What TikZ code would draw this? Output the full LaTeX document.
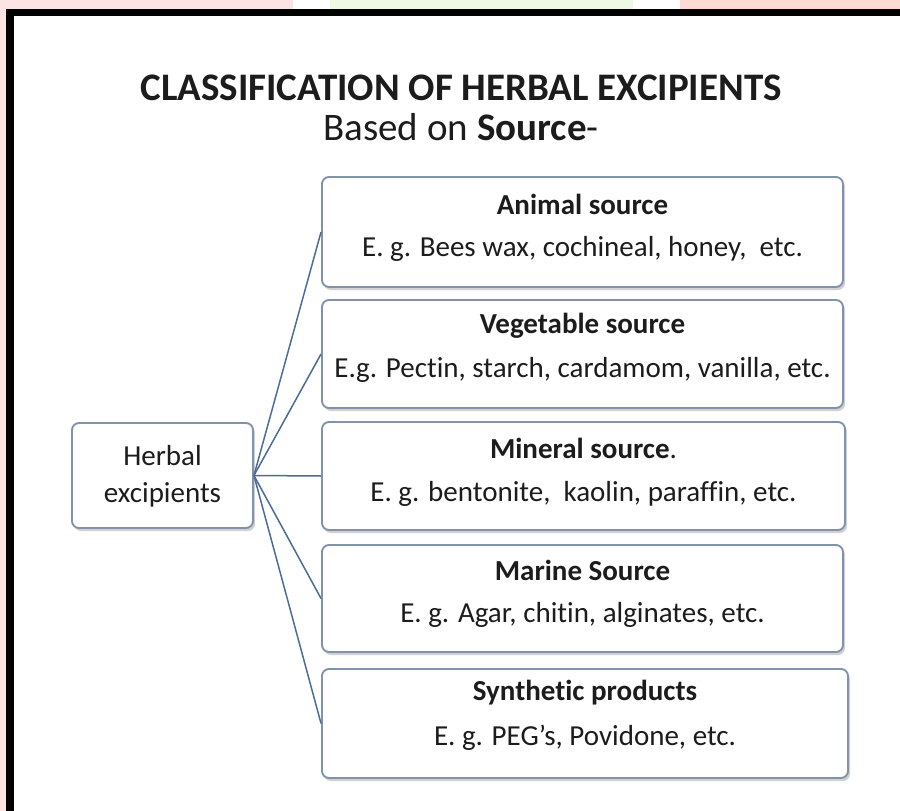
\documentclass[tikz,border=0pt]{standalone}
\usepackage{fontspec}
\setmainfont{Carlito}[RawFeature={-liga;-clig;-calt;-dlig}]
\definecolor{bandpink}{HTML}{FDE4E4}
\definecolor{bandgreen}{HTML}{EEF8E4}
\definecolor{bandsalmon}{HTML}{FDDAD4}
\definecolor{boxline}{HTML}{8192AB}
\definecolor{connline}{HTML}{4E6C98}
\definecolor{txt}{HTML}{1C1C1C}
\tikzset{
  srcbox/.style={draw=boxline, line width=1.9pt, rounded corners=7pt, fill=white, inner sep=0pt},
  hdr/.style={font=\fontsize{29}{34}\selectfont\bfseries, text=txt, inner sep=0pt},
  bodytxt/.style={font=\fontsize{29}{34}\selectfont, text=txt, inner sep=0pt},
  conn/.style={draw=connline, line width=1.5pt},
  shadowbox/.style={fill=black!18, rounded corners=7pt, draw=none}
}
\begin{document}
\begin{tikzpicture}[x=1pt,y=-1pt]
\useasboundingbox (0,0) rectangle (900,811);
\fill[white] (0,0) rectangle (900,811);
% top colour band
\fill[bandpink] (0,0) rectangle (293,9);
\fill[bandgreen] (330,0) rectangle (633,9);
\fill[bandsalmon] (680,0) rectangle (900,9);
\fill[bandpink] (0,9) rectangle (6,811);
% black frame
\fill[black] (6,9) rectangle (900,16);
\fill[black] (6,9) rectangle (14,811);
% title
\node[font=\fontsize{39}{46}\selectfont\bfseries, text=txt, inner sep=0pt] (title) at (461,88) {CLASSIFICATION OF HERBAL EXCIPIENTS};
\node[font=\fontsize{39}{46}\selectfont, text=txt, inner sep=0pt] (sub) at (461,127) {Based on \textbf{Source}-};
% shadows
\foreach \t/\b/\r in {177/287/843, 300/408/843, 422/530/845, 545/652/843, 669/778/848}{
  \fill[shadowbox] (324,\t+3) rectangle (\r+2,\b+3);
}
\fill[shadowbox] (74,426) rectangle (255,531);
% boxes
\node[srcbox, minimum width=521pt, minimum height=110pt] (b1) at (582.5,232) {};
\node[srcbox, minimum width=521pt, minimum height=108pt] (b2) at (582.5,354) {};
\node[srcbox, minimum width=523pt, minimum height=108pt] (b3) at (583.5,476) {};
\node[srcbox, minimum width=521pt, minimum height=107pt] (b4) at (582.5,598.5) {};
\node[srcbox, minimum width=526pt, minimum height=109pt] (b5) at (585,723.5) {};
\node[srcbox, minimum width=181pt, minimum height=105pt] (herb) at (162.5,475.5) {};
% texts
\node[hdr] (h1) at (582.5,204) {Animal source};
\node[bodytxt] (t1) at (582.5,249) {E. g. Bees wax, cochineal, honey,\ \ etc.};
\node[hdr] (h2) at (582.5,326) {Vegetable source};
\node[bodytxt] (t2) at (582.5,370) {E.g. Pectin, starch, cardamom, vanilla, etc.};
\node[hdr] (h3) at (583.5,448) {Mineral source\mdseries.};
\node[bodytxt] (t3) at (583.5,494) {E. g. bentonite,\ \ kaolin, paraffin, etc.};
\node[hdr] (h4) at (582.5,570) {Marine Source};
\node[bodytxt] (t4) at (582.5,615) {E. g. Agar, chitin, alginates, etc.};
\node[hdr] (h5) at (585,693) {Synthetic products};
\node[bodytxt] (t5) at (585,738) {E. g. PEG’s, Povidone, etc.};
\node[bodytxt] (hl1) at (162.5,456) {Herbal};
\node[bodytxt] (hl2) at (162.5,495) {excipients};
% connectors
\foreach \n in {b1,b2,b3,b4,b5}{
  \draw[conn] (herb.east) -- (\n.west);
}
\end{tikzpicture}
\end{document}
